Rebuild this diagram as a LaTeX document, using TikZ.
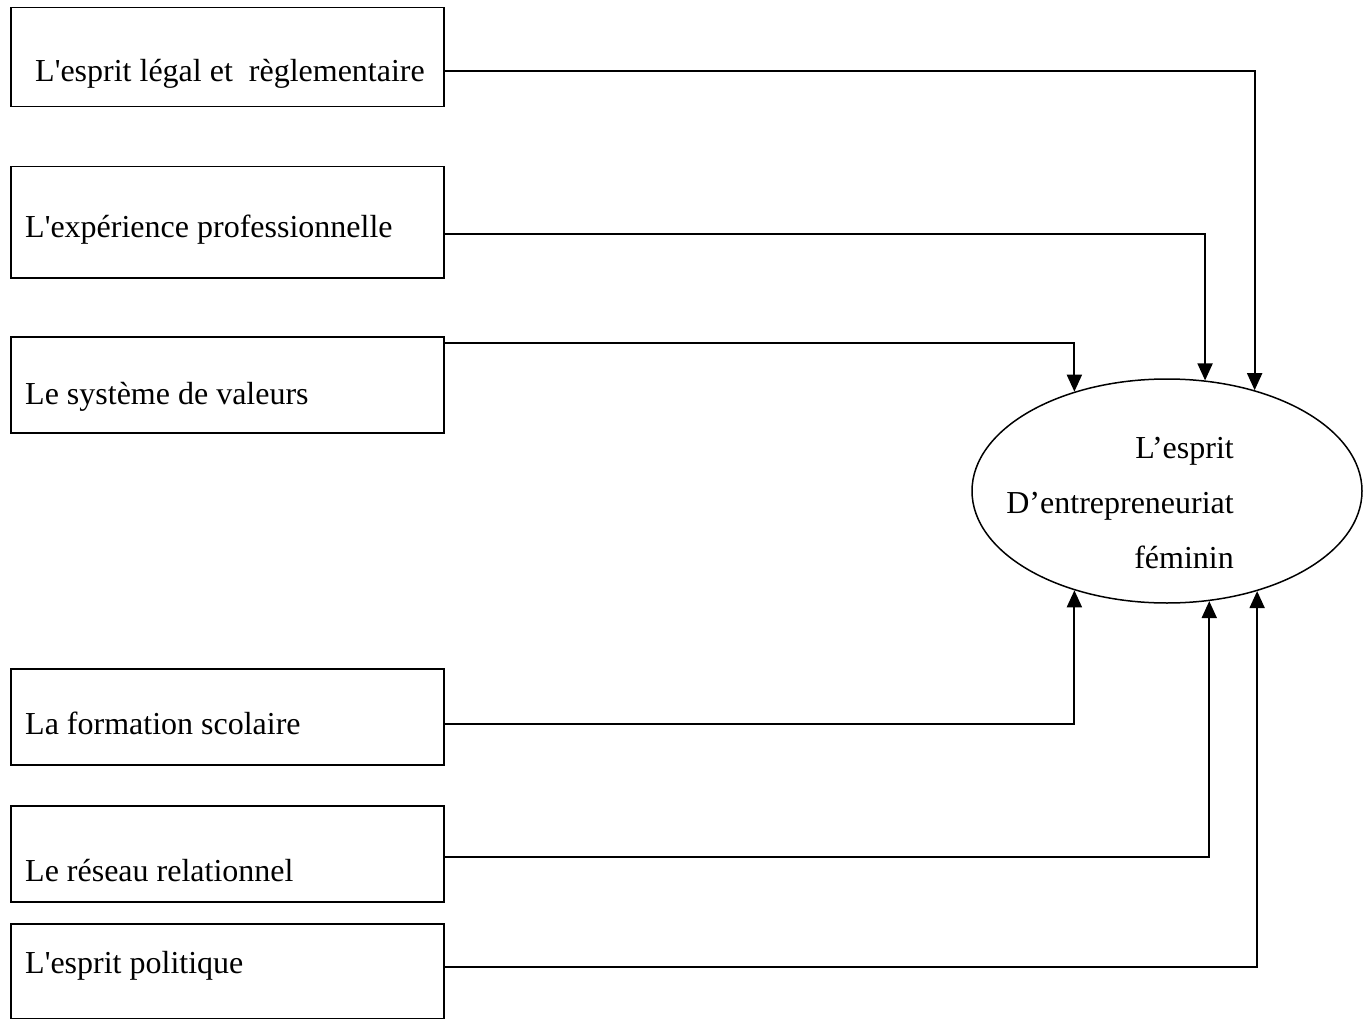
\documentclass[tikz,border=0pt]{standalone}
\usepackage{fontspec}
\setmainfont{Liberation Serif}
\usetikzlibrary{shapes.geometric,arrows.meta,calc}
\begin{document}
\begin{tikzpicture}[x=1pt,y=-1pt,
  box/.style={draw,line width=1.5pt,rectangle,inner sep=0pt,minimum width=433pt,anchor=north west},
  lbl/.style={inner sep=0pt,anchor=base west,font=\fontsize{32}{38}\selectfont},
  elbl/.style={inner sep=0pt,anchor=base east,font=\fontsize{32}{38}\selectfont},
  conn/.style={line width=1.9pt,-{Triangle[length=17pt,width=15pt]}}]
\useasboundingbox (0,0) rectangle (1363,1019);
% boxes
\node[box,minimum height=99pt] (b1) at (10,7) {};
\node[box,minimum height=111pt] (b2) at (10,166) {};
\node[box,minimum height=96pt] (b3) at (10,336) {};
\node[box,minimum height=96pt] (b4) at (10,668) {};
\node[box,minimum height=96pt] (b5) at (10,805) {};
\node[box,minimum height=95pt] (b6) at (10,923) {};
% labels
\node[lbl] (t1) at (35,82) {L\textquotesingle esprit légal et\ \ règlementaire};
\node[lbl] (t2) at (25,238) {L\textquotesingle expérience professionnelle};
\node[lbl] (t3) at (25,404) {Le système de valeurs};
\node[lbl] (t4) at (25,734) {La formation scolaire};
\node[lbl] (t5) at (25,881) {Le réseau relationnel};
\node[lbl] (t6) at (25,973) {L\textquotesingle esprit politique};
% ellipse
\node[draw,ellipse,line width=1.5pt,inner sep=0pt,minimum width=390pt,minimum height=224pt] (e) at (1167,491) {};
\node[elbl] (e1) at (1234,458) {L’esprit};
\node[elbl] (e2) at (1234,513) {D’entrepreneuriat};
\node[elbl] (e3) at (1234,568) {féminin};
% connectors
\coordinate (s1) at ($(b1.north east)+(0,64)$);
\coordinate (s2) at ($(b2.north east)+(0,68)$);
\coordinate (s3) at ($(b3.north east)+(0,7)$);
\coordinate (s4) at ($(b4.north east)+(0,56)$);
\coordinate (s5) at ($(b5.north east)+(0,52)$);
\coordinate (s6) at ($(b6.north east)+(0,44)$);
\draw[conn] (s1) -| (e.49.4);
\draw[conn] (s2) -| (e.71.4);
\draw[conn] (s3) -| (e.133);
\draw[conn] (s4) -| (e.227);
\draw[conn] (s5) -| (e.-69);
\draw[conn] (s6) -| (e.-48.6);
\end{tikzpicture}
\end{document}
